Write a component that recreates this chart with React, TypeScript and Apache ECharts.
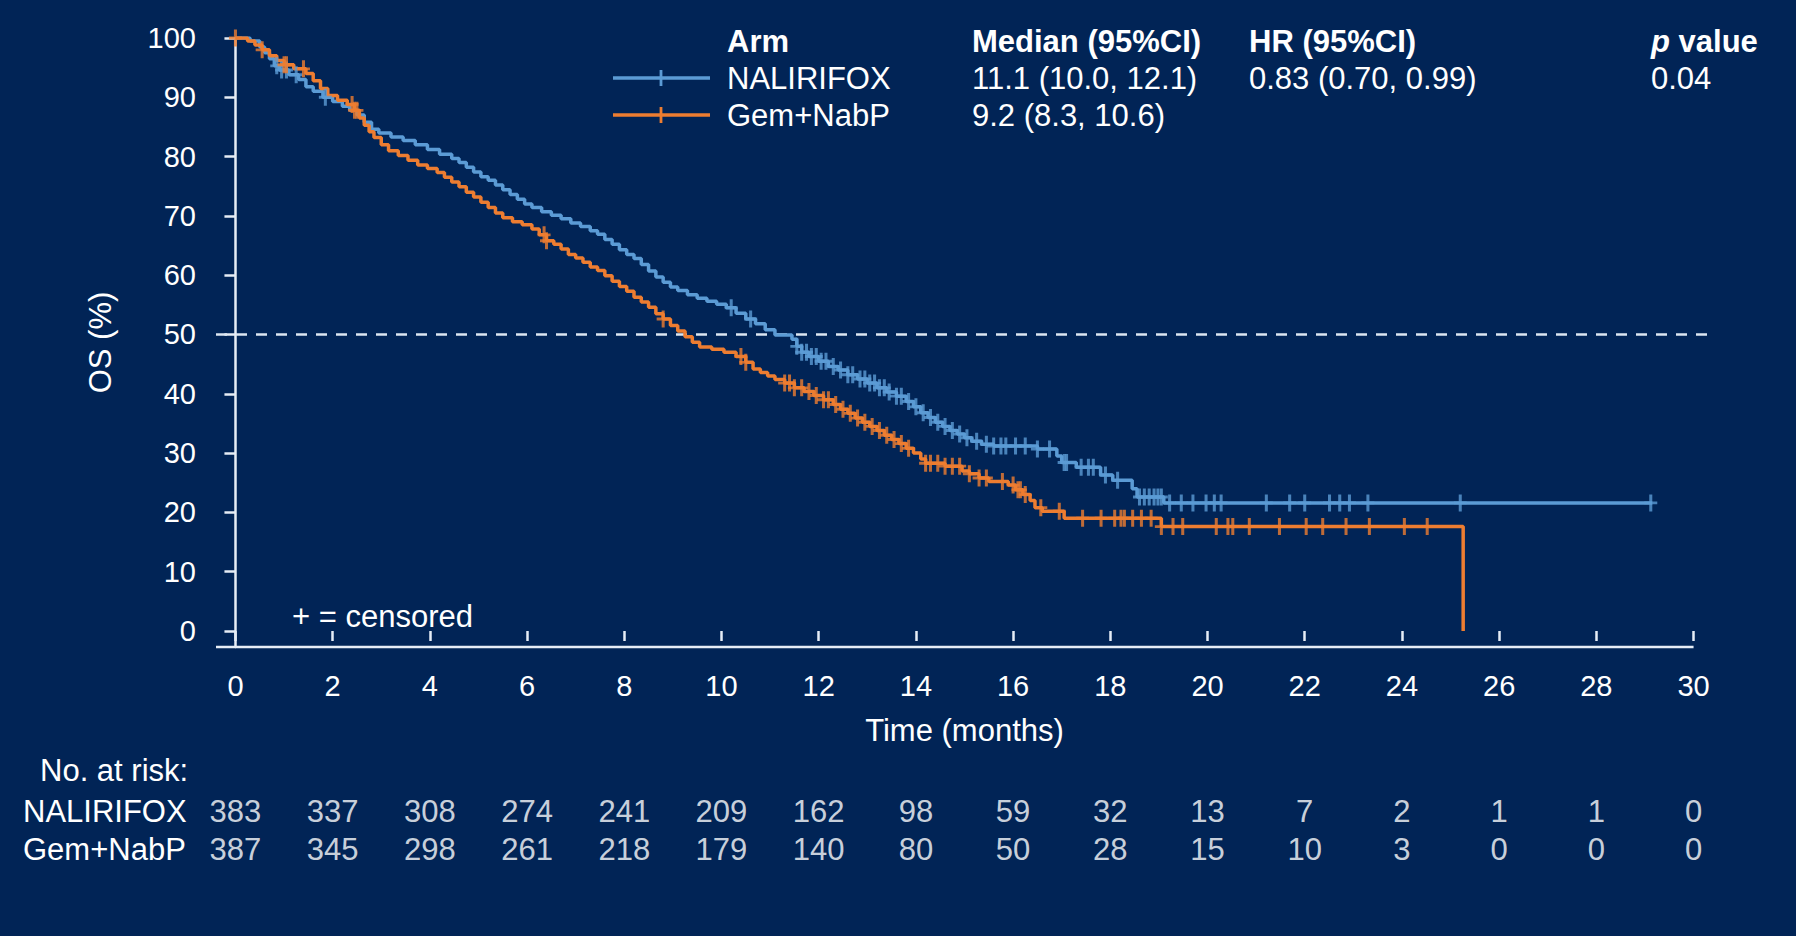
import React, { useEffect, useRef } from "react";
import * as echarts from "echarts";

// ---------- data ----------
const timeTicks = [0, 2, 4, 6, 8, 10, 12, 14, 16, 18, 20, 22, 24, 26, 28, 30];
const osTicks = [0, 10, 20, 30, 40, 50, 60, 70, 80, 90, 100];
const armNames = ["NALIRIFOX", "Gem+NabP"];
const medianTexts = ["11.1 (10.0, 12.1)", "9.2 (8.3, 10.6)"];
const hrText = "0.83 (0.70, 0.99)";
const pValueText = "0.04";
const referenceLevel = 50;

// KM curves: [time (months), OS %] at each step
const nalirifoxCurve: [number, number][] = [
  [0, 100], [0.3, 99.5], [0.5, 98.5], [0.6, 97.5], [0.7, 96.5], [0.8, 95.3], [0.9, 94.6], [1.1, 93.8],
  [1.3, 93.0], [1.45, 91.8], [1.6, 91.0], [1.8, 90.0], [2.0, 89.3], [2.2, 88.5], [2.35, 87.8], [2.5, 87.0],
  [2.65, 85.8], [2.8, 84.6], [2.95, 84.0], [3.2, 83.3], [3.45, 82.7], [3.7, 82.0], [3.95, 81.2], [4.2, 80.4],
  [4.45, 79.7], [4.6, 79.0], [4.75, 78.2], [4.9, 77.4], [5.05, 76.6], [5.2, 76.0], [5.35, 75.2], [5.5, 74.4],
  [5.65, 73.6], [5.8, 72.8], [5.95, 72.0], [6.1, 71.4], [6.3, 70.7], [6.5, 70.1], [6.7, 69.5], [6.9, 68.8],
  [7.1, 68.2], [7.3, 67.5], [7.45, 66.9], [7.6, 66.0], [7.75, 65.2], [7.9, 64.3], [8.05, 63.5], [8.2, 62.8],
  [8.35, 61.8], [8.5, 60.7], [8.65, 59.7], [8.8, 58.8], [8.95, 58.0], [9.1, 57.4], [9.3, 56.7], [9.5, 56.1],
  [9.7, 55.6], [9.9, 55.1], [10.1, 54.5], [10.3, 53.6], [10.5, 52.6], [10.7, 51.8], [10.9, 50.8], [11.1, 49.9],
  [11.45, 49.2], [11.55, 48.0], [11.65, 47.0], [11.8, 46.3], [12.0, 45.5], [12.2, 44.6], [12.4, 44.0], [12.6, 43.2],
  [12.8, 42.5], [13.0, 41.8], [13.2, 41.0], [13.4, 40.3], [13.6, 39.6], [13.8, 38.7], [13.95, 37.8], [14.1, 36.8],
  [14.25, 36.0], [14.4, 35.2], [14.55, 34.5], [14.7, 33.8], [14.85, 33.2], [15.0, 32.6], [15.15, 32.0], [15.35, 31.5],
  [15.6, 31.2], [16.5, 30.7], [16.9, 29.5], [17.0, 28.4], [17.3, 27.6], [17.8, 26.3], [18.05, 25.4], [18.45, 24.0],
  [18.55, 22.6], [19.1, 21.6], [29.15, 21.6],
];

const gemNabpCurve: [number, number][] = [
  [0, 100], [0.25, 99.5], [0.4, 98.8], [0.55, 98.0], [0.7, 97.0], [0.85, 96.2], [1.0, 95.5], [1.2, 94.8],
  [1.45, 94.0], [1.6, 92.8], [1.75, 91.5], [1.9, 90.3], [2.1, 89.5], [2.3, 88.8], [2.45, 87.8], [2.55, 86.5],
  [2.65, 85.3], [2.75, 84.2], [2.85, 83.2], [3.0, 82.0], [3.15, 81.0], [3.35, 80.2], [3.55, 79.4], [3.75, 78.6],
  [3.95, 78.0], [4.15, 77.3], [4.3, 76.5], [4.45, 75.7], [4.6, 74.9], [4.75, 74.0], [4.9, 73.2], [5.05, 72.3],
  [5.2, 71.4], [5.35, 70.5], [5.5, 69.7], [5.7, 69.0], [5.9, 68.5], [6.1, 67.8], [6.25, 66.8], [6.4, 65.8],
  [6.55, 65.2], [6.7, 64.4], [6.85, 63.5], [7.0, 62.9], [7.15, 62.2], [7.3, 61.4], [7.45, 60.8], [7.6, 59.9],
  [7.75, 59.0], [7.9, 58.1], [8.05, 57.3], [8.2, 56.3], [8.35, 55.5], [8.5, 54.6], [8.65, 53.5], [8.8, 52.6],
  [8.95, 51.5], [9.1, 50.6], [9.25, 49.6], [9.4, 48.7], [9.55, 47.9], [9.8, 47.5], [10.05, 47.0], [10.3, 46.3],
  [10.5, 45.3], [10.65, 44.2], [10.8, 43.6], [10.95, 43.0], [11.1, 42.4], [11.3, 41.8], [11.5, 41.0], [11.7, 40.4],
  [11.9, 39.7], [12.1, 39.0], [12.3, 38.2], [12.45, 37.4], [12.6, 36.7], [12.75, 35.9], [12.9, 35.2], [13.05, 34.5],
  [13.2, 33.8], [13.35, 33.0], [13.5, 32.3], [13.65, 31.6], [13.8, 30.8], [13.95, 30.0], [14.1, 29.0], [14.2, 28.3],
  [14.6, 27.8], [14.95, 27.0], [15.1, 26.5], [15.3, 25.8], [15.5, 25.2], [15.9, 24.6], [16.05, 23.8], [16.2, 23.0],
  [16.35, 22.0], [16.45, 20.8], [16.6, 20.2], [17.05, 19.0], [19.05, 17.6], [25.26, 0],
];

// censoring times (months)
const nalirifoxCensorTimes = [
  0.85, 0.95, 1.05, 1.25, 1.85, 10.2, 10.6, 11.55, 11.65, 11.75, 11.85, 11.95, 12.05, 12.15, 12.3, 12.45,
  12.6, 12.7, 12.85, 12.95, 13.05, 13.15, 13.25, 13.35, 13.45, 13.6, 13.7, 13.85, 14.0, 14.15, 14.3, 14.45,
  14.6, 14.75, 14.9, 15.05, 15.25, 15.45, 15.6, 15.75, 15.85, 16.05, 16.25, 16.5, 16.75, 17.05, 17.1, 17.4,
  17.55, 17.65, 17.9, 18.15, 18.6, 18.7, 18.8, 18.9, 18.98, 19.05, 19.22, 19.46, 19.7, 19.97, 20.14, 20.28,
  21.21, 21.69, 22.0, 22.51, 22.72, 22.92, 23.3, 25.2, 29.12,
];
const gemNabpCensorTimes = [
  0, 0.55, 1.0, 1.05, 1.4, 2.4, 2.45, 2.5, 6.35, 6.4, 8.8, 10.4, 10.5, 11.3, 11.4, 11.5, 11.65, 11.8, 11.95,
  12.1, 12.2, 12.35, 12.5, 12.65, 12.8, 12.95, 13.1, 13.25, 13.4, 13.55, 13.7, 13.85, 14.2, 14.3, 14.45, 14.6,
  14.75, 14.9, 15.1, 15.3, 15.45, 15.78, 16.0, 16.1, 16.15, 16.25, 16.57, 16.95, 17.43, 17.81, 18.09, 18.22,
  18.29, 18.46, 18.64, 18.84, 19.05, 19.29, 19.49, 20.18, 20.42, 20.52, 20.86, 21.48, 22.03, 22.37, 22.85,
  23.33, 24.05, 24.52,
];

// number at risk at each time tick
const riskNalirifox = [383, 337, 308, 274, 241, 209, 162, 98, 59, 32, 13, 7, 2, 1, 1, 0];
const riskGemNabp = [387, 345, 298, 261, 218, 179, 140, 80, 50, 28, 15, 10, 3, 0, 0, 0];

// ---------- styling ----------
const BG = "#012456";
const BLUE = "#5B9BD5";
const ORANGE = "#ED7D31";
const AXIS = "#E6EDF6";
const TEXT = "#FFFFFF";
const FONT = "'Liberation Sans', Arial, Helvetica, sans-serif";
const FS = 31; // legend, table, names
const FS_TICK = 29; // tick labels
const X_MIN = -0.4;
const X_MAX = 30.4;
const X_AXIS_END = 30;
const Y_MIN = -2.7;
const Y_MAX = 100;

const CENSOR_PATH =
  "path://M-1.4,-7L1.4,-7L1.4,-1.2L6,-1.2L6,1.2L1.4,1.2L1.4,7L-1.4,7L-1.4,1.2L-6,1.2L-6,-1.2L-1.4,-1.2Z";

function survivalAt(curve: [number, number][], t: number): number {
  let s = curve[0][1];
  for (const [ct, cs] of curve) {
    if (ct <= t) s = cs;
    else break;
  }
  return s;
}

function txt(text: string, x: number, y: number, extra: any = {}) {
  return {
    type: "text",
    x,
    y,
    silent: true,
    style: {
      text,
      fill: TEXT,
      fontSize: FS,
      fontFamily: FONT,
      align: "left",
      verticalAlign: "middle",
      ...extra,
    },
  };
}

function legendSample(color: string, y: number) {
  return {
    type: "group",
    silent: true,
    children: [
      { type: "line", shape: { x1: 613, y1: y, x2: 710, y2: y }, style: { stroke: color, lineWidth: 3.5 } },
      { type: "line", shape: { x1: 661, y1: y - 8, x2: 661, y2: y + 8 }, style: { stroke: color, lineWidth: 2.8 } },
    ],
  };
}

export default function App() {
  const ref = useRef<HTMLDivElement>(null);

  useEffect(() => {
    if (!ref.current) return;
    const chart = echarts.init(ref.current, null, { renderer: "svg" });

    const curveSeries = (name: string, data: [number, number][], color: string) => ({
      name,
      type: "line",
      xAxisIndex: 0,
      yAxisIndex: 0,
      step: "end",
      data,
      showSymbol: false,
      symbol: "none",
      lineStyle: { color, width: 3.5 },
      silent: true,
      z: 3,
    });

    const censorSeries = (name: string, times: number[], curve: [number, number][], color: string) => ({
      name: name + " censored",
      type: "scatter",
      xAxisIndex: 0,
      yAxisIndex: 0,
      data: times.map((t) => [t, survivalAt(curve, t)]),
      symbol: CENSOR_PATH,
      symbolSize: [13, 17],
      itemStyle: { color },
      silent: true,
      z: 4,
    });

    const riskSeries = (arm: string, values: number[]) => ({
      name: arm + " at risk",
      type: "scatter",
      xAxisIndex: 1,
      yAxisIndex: 1,
      data: timeTicks.map((t, i) => [t, arm, values[i]]),
      symbolSize: 1,
      itemStyle: { color: "transparent" },
      label: {
        show: true,
        position: "inside",
        formatter: (p: any) => String(p.value[2]),
        color: TEXT,
        fontSize: FS,
        fontFamily: FONT,
        align: "center",
        verticalAlign: "middle",
      },
      silent: true,
    });

    const option: any = {
      animation: false,
      backgroundColor: BG,
      textStyle: { fontFamily: FONT },
      grid: [
        { left: 216, top: 38, width: 1497, height: 609 },
        { left: 216, top: 792, width: 1497, height: 76 },
      ],
      xAxis: [
        {
          type: "value",
          gridIndex: 0,
          min: X_MIN,
          max: X_MAX,
          axisLine: { show: false },
          axisTick: {
            show: true,
            customValues: timeTicks,
            length: 10,
            lineStyle: { color: AXIS, width: 2.5 },
          },
          axisLabel: {
            show: true,
            customValues: timeTicks,
            color: TEXT,
            fontSize: FS_TICK,
            fontFamily: FONT,
            margin: 24,
          },
          splitLine: { show: false },
          name: "Time (months)",
          nameLocation: "middle",
          nameGap: 68,
          nameTextStyle: { color: TEXT, fontSize: FS, fontFamily: FONT },
        },
        {
          type: "value",
          gridIndex: 1,
          min: X_MIN,
          max: X_MAX,
          show: false,
        },
      ],
      yAxis: [
        {
          type: "value",
          gridIndex: 0,
          min: Y_MIN,
          max: Y_MAX,
          axisLine: { show: true, lineStyle: { color: AXIS, width: 2.5 } },
          axisTick: {
            show: true,
            customValues: osTicks,
            length: 11,
            lineStyle: { color: AXIS, width: 2.5 },
          },
          axisLabel: {
            show: true,
            customValues: osTicks,
            color: TEXT,
            fontSize: FS_TICK,
            fontFamily: FONT,
            margin: 20,
          },
          splitLine: { show: false },
          name: "OS (%)",
          nameLocation: "middle",
          nameGap: 100,
          nameRotate: 90,
          nameTextStyle: { color: TEXT, fontSize: FS, fontFamily: FONT },
        },
        {
          type: "category",
          gridIndex: 1,
          data: [armNames[1], armNames[0]],
          axisLine: { show: false },
          axisTick: { show: false },
          splitLine: { show: false },
          axisLabel: {
            show: true,
            interval: 0,
            hideOverlap: false,
            color: TEXT,
            fontSize: FS,
            fontFamily: FONT,
            align: "left",
            margin: 193,
          },
        },
      ],
      series: [
        {
          name: "median reference",
          type: "line",
          xAxisIndex: 0,
          yAxisIndex: 0,
          data: [[X_MIN, referenceLevel], [X_MAX, referenceLevel]],
          symbol: "none",
          lineStyle: { color: "#DCE6F2", width: 2.5, type: [11, 9] },
          silent: true,
          z: 1,
        },
        {
          name: "x axis line",
          type: "line",
          xAxisIndex: 0,
          yAxisIndex: 0,
          data: [[X_MIN, Y_MIN], [X_AXIS_END, Y_MIN]],
          symbol: "none",
          clip: false,
          lineStyle: { color: AXIS, width: 2.5 },
          silent: true,
          z: 2,
        },
        curveSeries(armNames[0], nalirifoxCurve, BLUE),
        censorSeries(armNames[0], nalirifoxCensorTimes, nalirifoxCurve, BLUE),
        curveSeries(armNames[1], gemNabpCurve, ORANGE),
        censorSeries(armNames[1], gemNabpCensorTimes, gemNabpCurve, ORANGE),
        riskSeries(armNames[0], riskNalirifox),
        riskSeries(armNames[1], riskGemNabp),
      ],
      graphic: [
        txt("Arm", 727, 41, { fontWeight: "bold" }),
        txt("Median (95%CI)", 972, 41, { fontWeight: "bold" }),
        txt("HR (95%CI)", 1249, 41, { fontWeight: "bold" }),
        {
          type: "text",
          x: 1651,
          y: 41,
          silent: true,
          style: {
            text: "{i|p} value",
            fill: TEXT,
            fontSize: FS,
            fontFamily: FONT,
            fontWeight: "bold",
            align: "left",
            verticalAlign: "middle",
            rich: {
              i: { fontStyle: "italic", fontWeight: "bold", fontSize: FS, fontFamily: FONT, fill: TEXT },
            },
          },
        },
        legendSample(BLUE, 78),
        legendSample(ORANGE, 115),
        txt(armNames[0], 727, 78),
        txt(armNames[1], 727, 115),
        txt(medianTexts[0], 972, 78),
        txt(medianTexts[1], 972, 115),
        txt(hrText, 1249, 78),
        txt(pValueText, 1651, 78),
        txt("+ = censored", 292, 616),
        txt("No. at risk:", 40, 770),
      ],
    };

    chart.setOption(option);
    return () => chart.dispose();
  }, []);

  return (
    <div
      ref={ref}
      style={{ position: "absolute", left: 0, top: 0, width: 1796, height: 936, background: BG }}
    />
  );
}
